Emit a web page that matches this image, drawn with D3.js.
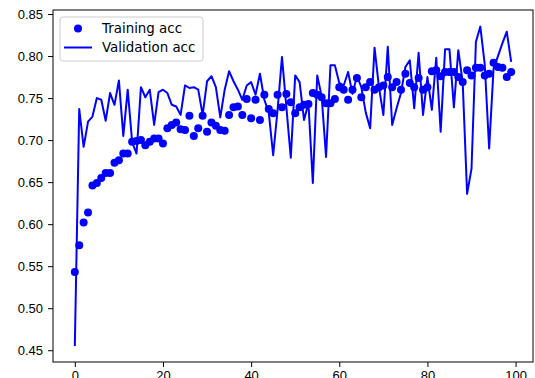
<!DOCTYPE html>
<html>
<head>
<meta charset="utf-8">
<script src="https://cdn.jsdelivr.net/npm/d3@7"></script>
<style>
  body { margin: 0; background: #fff; }
  svg { display: block; font-family: "DejaVu Sans", sans-serif; }
  .axis text { font-size: 13px; fill: #000; }
  .axis path, .axis line { stroke: #000; stroke-width: 1; }
</style>
</head>
<body>
<div id="vis"></div>
<script>
// training accuracy per epoch (dots)
var trainAcc = [
  0.543, 0.575, 0.602, 0.614, 0.646, 0.649, 0.655, 0.661, 0.661, 0.673,
  0.676, 0.684, 0.684, 0.698, 0.699, 0.700, 0.694, 0.698, 0.702, 0.702,
  0.696, 0.714, 0.718, 0.721, 0.713, 0.712, 0.729, 0.705, 0.714, 0.729,
  0.710, 0.721, 0.717, 0.712, 0.711, 0.730, 0.739, 0.740, 0.730, 0.749,
  0.726, 0.748, 0.724, 0.754, 0.737, 0.732, 0.754, 0.739, 0.755, 0.745,
  0.732, 0.739, 0.742, 0.743, 0.756, 0.754, 0.751, 0.744, 0.744, 0.749,
  0.763, 0.760, 0.748, 0.760, 0.774, 0.751, 0.763, 0.769, 0.760, 0.763,
  0.765, 0.775, 0.763, 0.769, 0.760, 0.779, 0.768, 0.763, 0.774, 0.760,
  0.763, 0.782, 0.783, 0.776, 0.781, 0.781, 0.781, 0.775, 0.769, 0.783,
  0.777, 0.786, 0.786, 0.777, 0.779, 0.792, 0.787, 0.786, 0.775, 0.781
];

// validation accuracy per epoch (line)
var valAcc = [
  0.455, 0.737, 0.692, 0.722, 0.728, 0.750, 0.748, 0.723, 0.756, 0.742,
  0.771, 0.705, 0.760, 0.698, 0.684, 0.763, 0.751, 0.760, 0.718, 0.757,
  0.760, 0.756, 0.742, 0.740, 0.730, 0.765, 0.762, 0.763, 0.760, 0.730,
  0.770, 0.776, 0.763, 0.727, 0.760, 0.782, 0.770, 0.760, 0.748, 0.765,
  0.769, 0.754, 0.779, 0.748, 0.733, 0.682, 0.736, 0.799, 0.739, 0.679,
  0.777, 0.769, 0.724, 0.744, 0.649, 0.777, 0.752, 0.680, 0.789, 0.789,
  0.768, 0.765, 0.781, 0.755, 0.776, 0.763, 0.733, 0.714, 0.810, 0.763,
  0.730, 0.811, 0.718, 0.738, 0.756, 0.787, 0.795, 0.738, 0.804, 0.730,
  0.775, 0.736, 0.798, 0.710, 0.808, 0.808, 0.739, 0.807, 0.769, 0.636,
  0.666, 0.817, 0.835, 0.790, 0.690, 0.785, 0.800, 0.815, 0.829, 0.793
];

var xTicks = [0, 20, 40, 60, 80, 100];
var yTicks = [0.45, 0.50, 0.55, 0.60, 0.65, 0.70, 0.75, 0.80, 0.85];
var seriesNames = ['Training acc', 'Validation acc'];

// size of the page and plot box
var width = 535;
var height = 378;
var margin = { top: 10, left: 53, bottom: 16, right: 2 };
var plotW = width - margin.left - margin.right;
var plotH = height - margin.top - margin.bottom;
var blue = '#0000ff';

var svg = d3.select('#vis').append('svg')
    .attr('width', width)
    .attr('height', height);

var g = svg.append('g')
    .attr('transform', 'translate(' + margin.left + ',' + margin.top + ')');

// matplotlib style 5% padding around the data
var xScale = d3.scaleLinear()
    .domain([-4.95, 103.95])
    .range([0, plotW]);

var yScale = d3.scaleLinear()
    .domain([0.436, 0.8548])
    .range([plotH, 0]);

// axes
g.append('g')
    .attr('class', 'x axis')
    .attr('transform', 'translate(0,' + plotH + ')')
    .call(d3.axisBottom(xScale).tickValues(xTicks).tickSize(5).tickPadding(4)
        .tickFormat(d3.format('d')))
    .call(function (a) { a.select('.domain').remove(); });

g.append('g')
    .attr('class', 'y axis')
    .call(d3.axisLeft(yScale).tickValues(yTicks).tickSize(5).tickPadding(5)
        .tickFormat(d3.format('.2f')))
    .call(function (a) { a.select('.domain').remove(); });

// training dots
g.selectAll('.dot')
    .data(trainAcc)
    .enter()
    .append('circle')
    .attr('class', 'dot')
    .attr('cx', function (d, i) { return xScale(i); })
    .attr('cy', function (d) { return yScale(d); })
    .attr('r', 4)
    .attr('fill', blue);

// validation line
var line = d3.line()
    .x(function (d, i) { return xScale(i); })
    .y(function (d) { return yScale(d); });

g.append('path')
    .datum(valAcc)
    .attr('d', line)
    .attr('fill', 'none')
    .attr('stroke', blue)
    .attr('stroke-width', 2)
    .attr('stroke-linejoin', 'round');

// frame round the plot
g.append('rect')
    .attr('x', 0)
    .attr('y', 0)
    .attr('width', plotW)
    .attr('height', plotH)
    .attr('fill', 'none')
    .attr('stroke', '#000')
    .attr('stroke-width', 1);

// legend
var legend = svg.append('g')
    .attr('transform', 'translate(60,17)');

legend.append('rect')
    .attr('width', 143)
    .attr('height', 44)
    .attr('rx', 3)
    .attr('fill', '#fff')
    .attr('fill-opacity', 0.8)
    .attr('stroke', '#cccccc');

legend.append('circle')
    .attr('cx', 18)
    .attr('cy', 11.5)
    .attr('r', 4)
    .attr('fill', blue);

legend.append('line')
    .attr('x1', 4)
    .attr('x2', 32)
    .attr('y1', 30.5)
    .attr('y2', 30.5)
    .attr('stroke', blue)
    .attr('stroke-width', 2);

legend.selectAll('.legend-text')
    .data(seriesNames)
    .enter()
    .append('text')
    .attr('class', 'legend-text')
    .attr('x', 42)
    .attr('y', function (d, i) { return 11.5 + i * 19; })
    .attr('dy', '0.35em')
    .style('font-size', '13.4px')
    .attr('fill', '#000')
    .text(function (d) { return d; });
</script>
</body>
</html>
